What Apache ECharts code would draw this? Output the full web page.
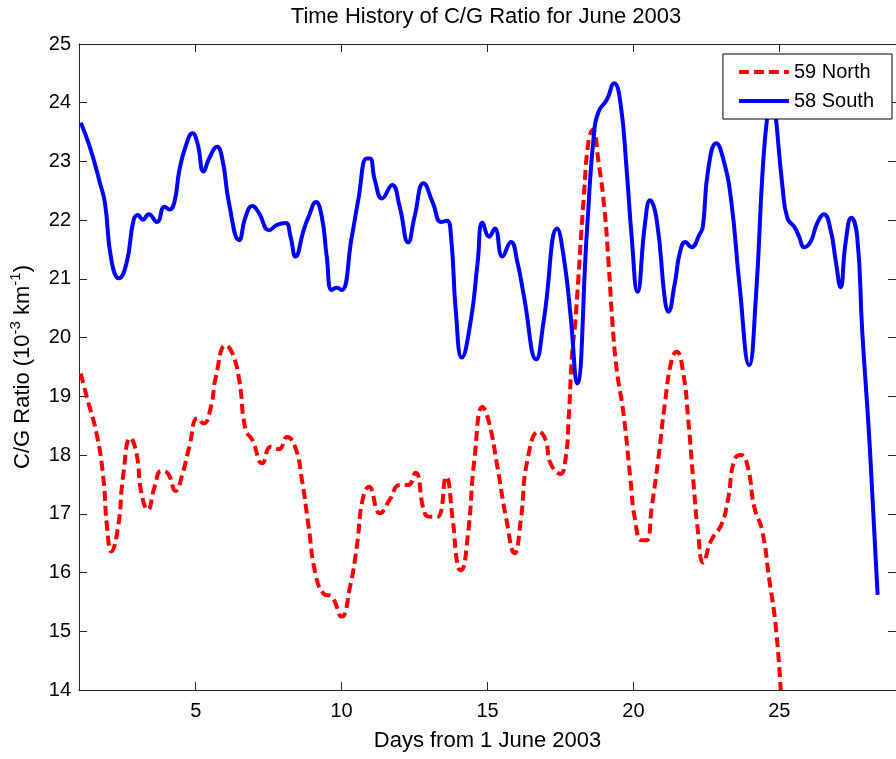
<!DOCTYPE html>
<html>
<head>
<meta charset="utf-8">
<title>Time History of C/G Ratio for June 2003</title>
<script src="https://cdn.jsdelivr.net/npm/echarts@6/dist/echarts.min.js"></script>
<style>
  html, body { margin: 0; padding: 0; background: #fff; }
  #chart { width: 896px; height: 759px; }
</style>
</head>
<body>
<div id="chart"></div>
<script>
// Days from 1 June 2003 and C/G ratio (10^-3 km^-1), station 59 North
const northDays = [1.06, 1.26, 1.60, 1.83, 1.96, 2.11, 2.34, 2.51, 2.76, 2.97, 3.14, 3.36, 3.59, 3.82, 4.04, 4.31, 4.55, 4.78, 5.06, 5.27, 5.52, 5.69, 6.03, 6.26, 6.49, 6.71, 6.94, 7.28, 7.57, 7.85, 8.13, 8.42, 8.64, 8.87, 9.10, 9.38, 9.66, 10.00, 10.29, 10.52, 10.72, 10.94, 11.31, 11.65, 11.99, 12.28, 12.53, 12.85, 13.07, 13.30, 13.58, 13.81, 13.98, 14.09, 14.32, 14.55, 14.83, 15.06, 15.34, 15.63, 15.93, 16.14, 16.37, 16.76, 16.99, 17.16, 17.50, 17.67, 17.78, 17.90, 18.01, 18.30, 18.47, 18.61, 18.81, 19.00, 19.15, 19.28, 19.43, 19.66, 19.89, 20.06, 20.28, 20.45, 20.63, 20.85, 21.08, 21.31, 21.48, 21.71, 21.88, 22.05, 22.22, 22.39, 22.67, 23.01, 23.24, 23.46, 23.69, 23.92, 24.14, 24.41, 24.66, 24.88, 25.05];
const northRatio = [19.39, 19.00, 18.37, 17.63, 16.78, 16.36, 16.78, 17.63, 18.29, 18.03, 17.35, 17.07, 17.46, 17.73, 17.69, 17.39, 17.69, 18.14, 18.63, 18.54, 18.82, 19.33, 19.87, 19.73, 19.28, 18.43, 18.26, 17.86, 18.14, 18.10, 18.31, 18.12, 17.58, 16.78, 15.99, 15.64, 15.59, 15.25, 15.76, 16.44, 17.24, 17.46, 17.01, 17.24, 17.49, 17.49, 17.70, 17.01, 16.95, 16.95, 17.63, 16.89, 16.10, 16.04, 16.61, 17.92, 18.82, 18.54, 17.80, 16.95, 16.33, 16.89, 17.92, 18.40, 18.26, 17.86, 17.68, 17.92, 18.60, 19.73, 20.27, 22.40, 23.37, 23.54, 22.97, 22.23, 21.27, 20.27, 19.45, 18.71, 17.63, 16.89, 16.55, 16.55, 17.12, 17.92, 18.88, 19.62, 19.76, 19.39, 18.60, 17.58, 16.67, 16.17, 16.55, 16.81, 17.24, 17.92, 18.00, 17.80, 17.12, 16.72, 15.87, 15.08, 14.00];

// Station 58 South
const southDays = [1.06, 1.37, 1.72, 1.89, 2.11, 2.37, 2.63, 2.87, 3.02, 3.19, 3.39, 3.67, 3.93, 4.10, 4.27, 4.44, 4.67, 4.89, 5.06, 5.27, 5.46, 5.73, 5.92, 6.14, 6.49, 6.71, 6.94, 7.17, 7.51, 7.79, 8.08, 8.25, 8.42, 8.70, 8.87, 9.12, 9.32, 9.49, 9.66, 9.83, 10.00, 10.35, 10.57, 10.86, 10.97, 11.14, 11.39, 11.73, 11.99, 12.28, 12.50, 12.81, 13.13, 13.41, 13.61, 13.75, 13.92, 14.12, 14.43, 14.66, 14.83, 15.06, 15.25, 15.51, 15.80, 16.03, 16.25, 16.67, 16.93, 17.39, 17.61, 17.84, 18.07, 18.41, 18.64, 18.81, 19.09, 19.34, 19.55, 19.77, 19.94, 20.14, 20.40, 20.57, 20.80, 21.08, 21.19, 21.42, 21.59, 21.78, 21.99, 22.27, 22.38, 22.56, 22.84, 23.09, 23.35, 23.63, 23.97, 24.20, 24.43, 24.60, 24.76, 24.88, 25.11, 25.28, 25.51, 25.68, 25.85, 26.07, 26.30, 26.53, 26.76, 26.93, 27.10, 27.27, 27.47, 27.67, 27.84, 28.06, 28.18, 28.37];
const southRatio = [23.66, 23.25, 22.63, 22.29, 21.32, 21.01, 21.27, 22.00, 22.09, 22.01, 22.10, 21.97, 22.23, 22.18, 22.31, 22.85, 23.28, 23.48, 23.31, 22.83, 23.05, 23.25, 23.02, 22.29, 21.66, 22.06, 22.24, 22.12, 21.83, 21.92, 21.95, 21.72, 21.38, 21.83, 22.06, 22.31, 22.06, 21.38, 20.81, 20.85, 20.81, 21.72, 22.34, 23.05, 23.05, 22.68, 22.37, 22.60, 22.23, 21.62, 22.06, 22.63, 22.29, 21.97, 21.99, 21.72, 20.41, 19.66, 20.30, 21.27, 21.96, 21.72, 21.86, 21.38, 21.63, 21.27, 20.70, 19.63, 20.30, 21.86, 21.38, 20.41, 19.22, 21.83, 23.42, 23.85, 24.05, 24.33, 24.02, 22.85, 21.72, 20.78, 21.95, 22.34, 22.00, 20.64, 20.44, 20.93, 21.44, 21.63, 21.54, 21.76, 21.89, 22.85, 23.31, 23.02, 22.34, 20.93, 19.53, 20.70, 22.85, 23.82, 24.25, 23.76, 22.57, 22.03, 21.89, 21.72, 21.54, 21.63, 21.95, 22.10, 21.83, 21.32, 20.86, 21.61, 22.04, 21.72, 20.13, 18.48, 17.41, 15.62];

// Axis ticks
const dayTicks = [5, 10, 15, 20, 25];
const ratioTicks = [14, 15, 16, 17, 18, 19, 20, 21, 22, 23, 24, 25];

const FONT = '"Liberation Sans", Arial, Helvetica, sans-serif';
const AXIS_COLOR = '#262626';

const pairs = (xs, ys) => xs.map((x, i) => [x, ys[i]]);

const chart = echarts.init(document.getElementById('chart'), null, { renderer: 'canvas' });

const frameX = (pos, show) => ({
  type: 'value', position: pos, min: 1, max: 29,
  axisLine: { show: true, onZero: false, lineStyle: { color: AXIS_COLOR, width: 1 } },
  axisTick: { show: true, inside: true, length: 8, customValues: dayTicks, lineStyle: { color: AXIS_COLOR } },
  axisLabel: { show: show, customValues: dayTicks, margin: 11, fontSize: 20, color: '#000', fontFamily: FONT },
  splitLine: { show: false }
});

const frameY = (pos, show) => ({
  type: 'value', position: pos, min: ratioTicks[0], max: ratioTicks[ratioTicks.length - 1], interval: 1,
  axisLine: { show: true, onZero: false, lineStyle: { color: AXIS_COLOR, width: 1 } },
  axisTick: { show: true, inside: true, length: 8, lineStyle: { color: AXIS_COLOR } },
  axisLabel: { show: show, margin: 8, fontSize: 20, color: '#000', fontFamily: FONT },
  splitLine: { show: false }
});

const xBottom = frameX('bottom', true);
xBottom.name = 'Days from 1 June 2003';
xBottom.nameLocation = 'middle';
xBottom.nameGap = 40;
xBottom.nameTextStyle = { fontSize: 22, color: '#000', fontFamily: FONT };

const yLeft = frameY('left', true);
yLeft.name = '{a|C/G Ratio (10}{s|-3}{a| km}{s|-1}{a|)}';
yLeft.nameLocation = 'middle';
yLeft.nameGap = 41;
yLeft.nameTextStyle = {
  color: '#000', fontFamily: FONT,
  rich: {
    a: { fontSize: 22, lineHeight: 30, color: '#000', fontFamily: FONT },
    s: { fontSize: 15, lineHeight: 16, verticalAlign: 'top', color: '#000', fontFamily: FONT }
  }
};

chart.setOption({
  animation: false,
  backgroundColor: '#fff',
  title: {
    text: 'Time History of C/G Ratio for June 2003',
    left: 486, top: 6, textAlign: 'center', padding: 0,
    textStyle: { fontSize: 22, fontWeight: 'normal', color: '#000', fontFamily: FONT }
  },
  grid: { left: 79, top: 44, right: -5, bottom: 69, containLabel: false },
  xAxis: [xBottom, frameX('top', false)],
  yAxis: [yLeft, frameY('right', false)],
  legend: {
    orient: 'vertical', right: 4, top: 54,
    padding: [8, 18, 8, 14], itemGap: 9, itemWidth: 50, itemHeight: 14,
    backgroundColor: '#fff', borderColor: '#000', borderWidth: 1, borderRadius: 0,
    itemStyle: { opacity: 0 },
    lineStyle: { width: 4 },
    textStyle: { fontSize: 20, color: '#000', fontFamily: FONT },
    data: ['59 North', '58 South']
  },
  series: [
    {
      name: '59 North', type: 'line', xAxisIndex: 0, yAxisIndex: 0,
      data: pairs(northDays, northRatio),
      showSymbol: false, symbol: 'none', smooth: 0.5,
      lineStyle: { color: '#ff0000', width: 4, type: [10, 5] },
      itemStyle: { color: '#ff0000' }
    },
    {
      name: '58 South', type: 'line', xAxisIndex: 0, yAxisIndex: 0,
      data: pairs(southDays, southRatio),
      showSymbol: false, symbol: 'none', smooth: 0.5,
      lineStyle: { color: '#0000ff', width: 4, type: 'solid' },
      itemStyle: { color: '#0000ff' }
    }
  ]
});
</script>
</body>
</html>
